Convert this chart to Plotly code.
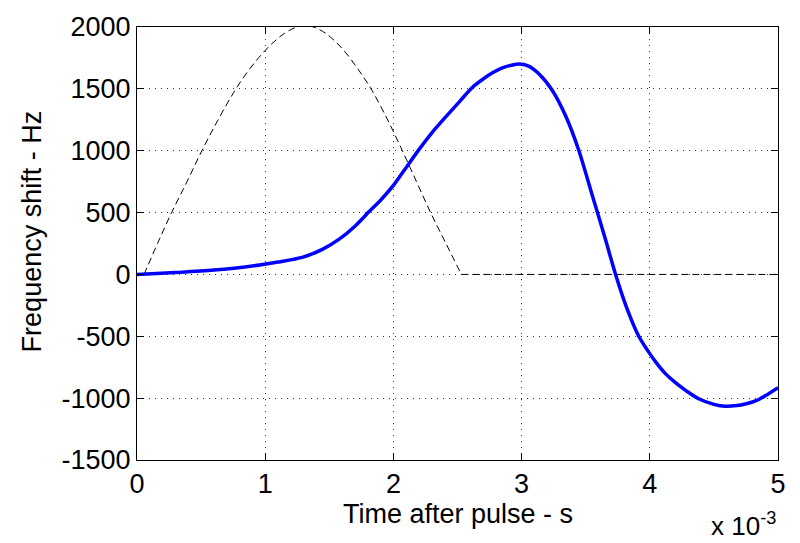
import plotly.graph_objects as go

# Time after pulse (ms) and frequency shift (Hz)
t_meas = [0, 0.3, 0.6, 0.957, 1.1, 1.295, 1.45, 1.58, 1.7, 1.813, 1.9, 2.0, 2.1, 2.202,
          2.3, 2.41, 2.514, 2.617, 2.7, 2.773, 2.85, 2.93, 2.98, 3.05, 3.136, 3.24,
          3.344, 3.447, 3.551, 3.655, 3.733, 3.82, 3.914, 3.98, 4.044, 4.12, 4.2, 4.29,
          4.381, 4.5, 4.589, 4.68, 4.745, 4.83, 4.9, 5.0]
f_meas = [0, 15, 35, 77, 100, 140, 205, 287, 390, 510, 600, 720, 865, 1013,
          1145, 1275, 1395, 1513, 1580, 1630, 1670, 1693, 1700, 1685, 1620, 1487,
          1280, 1000, 640, 280, 0, -270, -500, -610, -705, -800, -875, -945,
          -1005, -1050, -1066, -1060, -1047, -1020, -981, -915]

# Reference (dashed) pulse curve; the last two points form the flat tail
t_pulse = [0.055, 0.16, 0.27, 0.39, 0.506, 0.63, 0.755, 0.85, 0.95, 1.05, 1.15, 1.23,
           1.31, 1.39, 1.47, 1.55, 1.63, 1.71, 1.77, 1.826, 1.95, 2.07, 2.18, 2.29,
           2.41, 2.53, 5.0]
f_pulse = [0, 250, 500, 750, 1000, 1245, 1472, 1620, 1753, 1863, 1948, 1993,
           2015, 1995, 1950, 1880, 1790, 1680, 1590, 1500, 1260, 1000, 750, 500,
           250, 0, 0]

x_ticks = [0, 1, 2, 3, 4, 5]
x_ticktext = ["0", "1", "2", "3", "4", "5"]
y_ticks = [-1500, -1000, -500, 0, 500, 1000, 1500, 2000]
y_ticktext = ["-1500", "-1000", "-500", "0", "500", "1000", "1500", "2000"]

FONT = "Liberation Sans, Arial, Helvetica, sans-serif"
DASH = "7px,4px"

fig = go.Figure()
fig.add_trace(go.Scatter(x=t_pulse[:-1], y=f_pulse[:-1], mode="lines",
                         line=dict(color="black", width=1, dash=DASH, shape="spline", smoothing=1.0),
                         hoverinfo="skip", showlegend=False))
fig.add_trace(go.Scatter(x=t_pulse[-2:], y=f_pulse[-2:], mode="lines",
                         line=dict(color="black", width=1, dash=DASH),
                         hoverinfo="skip", showlegend=False))
fig.add_trace(go.Scatter(x=t_meas, y=f_meas, mode="lines",
                         line=dict(color="#0000ff", width=3.5, shape="spline", smoothing=0.8),
                         showlegend=False))

axis_common = dict(showline=True, linecolor="black", linewidth=1, mirror="ticks",
                   ticks="inside", ticklen=7, tickcolor="black", tickwidth=1,
                   showgrid=True, gridcolor="#333333", gridwidth=1, griddash="1px,5px",
                   zeroline=False, tickfont=dict(family=FONT, size=27, color="black"))

fig.update_xaxes(range=[0, 5], tickvals=x_ticks, ticktext=x_ticktext, **axis_common)
fig.update_yaxes(range=[-1500, 2000], tickvals=y_ticks, ticktext=y_ticktext, **axis_common)

fig.update_layout(
    width=800, height=543,
    margin=dict(l=137, r=22, t=15, b=83),
    paper_bgcolor="white", plot_bgcolor="white",
    font=dict(family=FONT, color="black"),
    annotations=[
        dict(text="Time after pulse - s", xref="paper", yref="paper", x=0.5, y=0,
             xanchor="center", yanchor="middle", yshift=-54, showarrow=False,
             font=dict(family=FONT, size=27, color="black")),
        dict(text="Frequency shift - Hz", xref="paper", yref="paper", x=0, y=0.528,
             xanchor="center", yanchor="middle", xshift=-105, textangle=-90,
             showarrow=False, font=dict(family=FONT, size=27, color="black")),
        dict(text="x 10<sup>-3</sup>", xref="paper", yref="paper", x=1, y=0,
             xanchor="right", yanchor="middle", xshift=0, yshift=-64, showarrow=False,
             font=dict(family=FONT, size=26, color="black")),
    ],
)

fig.write_html("out.html")
